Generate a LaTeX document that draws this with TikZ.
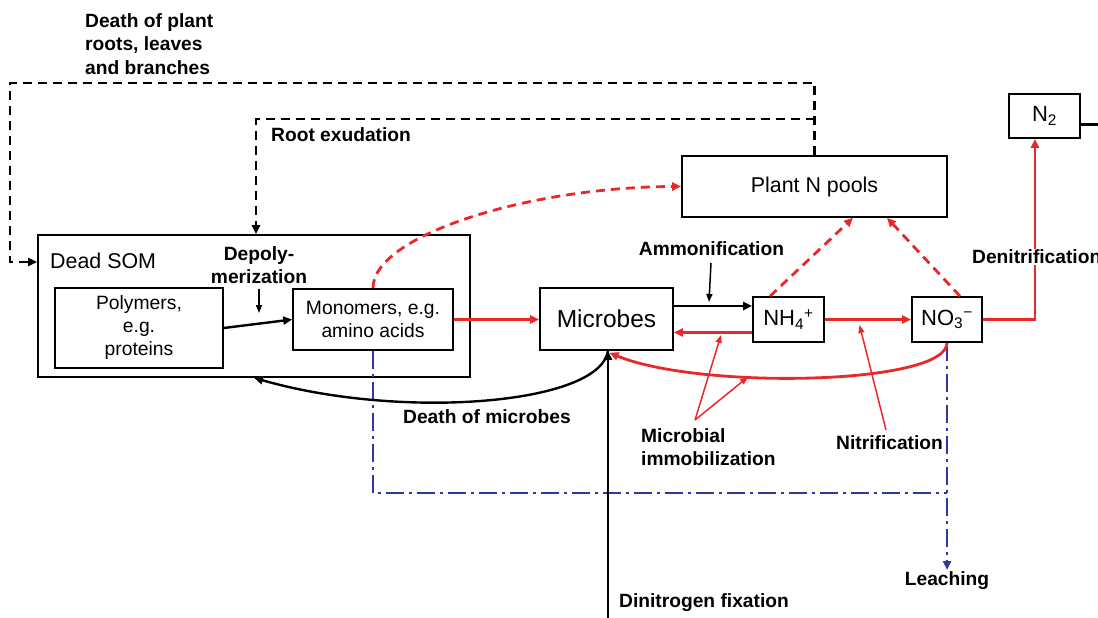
\documentclass[tikz,border=0pt]{standalone}
\usepackage{fontspec}
\setmainfont{Liberation Sans}
\usetikzlibrary{arrows.meta}
\definecolor{nred}{HTML}{E8282A}
\definecolor{nblue}{HTML}{34379A}
\begin{document}
\begin{tikzpicture}[x=1pt,y=-1pt,
 box/.style={draw,line width=1.6pt,inner sep=0pt,align=center},
 lbl/.style={font=\fontsize{19.2}{23.5}\selectfont\bfseries,inner sep=0pt,align=left},
 tip/.style={-{Triangle[length=9pt,width=8pt]}},
 stip/.style={-{Triangle[length=8pt,width=6pt]}},
 blk/.style={line width=2.4pt,black},
 thinblk/.style={line width=1.5pt,black},
 redl/.style={line width=2.8pt,nred},
 thinred/.style={line width=1.5pt,nred},
 bdash/.style={blk,dash pattern=on 9pt off 6pt},
 rdash/.style={redl,dash pattern=on 9pt off 6pt},
 bluel/.style={line width=2.4pt,nblue,dash pattern=on 18pt off 5pt on 3pt off 5pt},
]
\useasboundingbox (0,0) rectangle (1098,618);
\clip (0,0) rectangle (1098,618);

% boxes
\node[box,minimum width=432pt,minimum height=142pt] (som) at (254,306) {};
\node[anchor=west,inner sep=0pt,font=\fontsize{21.4}{25}\selectfont] (somlbl) at (50,261) {Dead SOM};
\node[box,minimum width=168pt,minimum height=80pt,font=\fontsize{19.3}{23}\selectfont] (poly) at (139,328) {Polymers,\\e.g.\\proteins};
\node[box,minimum width=160pt,minimum height=61pt,font=\fontsize{19.3}{23}\selectfont] (mono) at (373,319.5) {Monomers, e.g.\\amino acids};
\node[box,minimum width=133pt,minimum height=62pt,font=\fontsize{24.5}{28}\selectfont] (mic) at (606.5,319) {Microbes};
\node[box,minimum width=71pt,minimum height=45pt,font=\fontsize{22}{26}\selectfont] (nh4) at (788.5,319.5) {NH\textsubscript{4}\textsuperscript{+}};
\node[box,minimum width=70pt,minimum height=45pt,font=\fontsize{22}{26}\selectfont] (no3) at (947,319.5) {NO\textsubscript{3}\textsuperscript{−}};
\node[box,minimum width=71pt,minimum height=44pt,font=\fontsize{22}{26}\selectfont] (n2) at (1044.5,116) {N\textsubscript{2}};
\node[box,minimum width=265pt,minimum height=61pt,font=\fontsize{21.4}{25}\selectfont] (plant) at (814.5,186.5) {Plant N pools};

% labels
\node[lbl,anchor=west] (lplant) at (85,44) {Death of plant\\roots, leaves\\and branches};
\node[lbl,anchor=west] (lroot) at (271,135) {Root exudation};
\node[lbl,align=center] (ldepol) at (259,265) {Depoly-\\merization};
\node[lbl] (lammon) at (711.5,249) {Ammonification};
\node[lbl,anchor=west] (ldeath) at (403,417) {Death of microbes};
\node[lbl,anchor=west] (limmob) at (641,447) {Microbial\\immobilization};
\node[lbl,anchor=west] (lnitr) at (836,443) {Nitrification};
\node[lbl] (lleach) at (947,581) {Leaching};
\node[lbl,anchor=west] (ldinit) at (619,603) {Dinitrogen fixation};

% coordinates
\coordinate (ctop) at (814.5,83);
\coordinate (cleft) at (10,83);
\coordinate (cbl) at (10,262);
\coordinate (cj) at (814.5,119);
\coordinate (cr) at (256,119);
\coordinate (d1) at (259,289);
\coordinate (d2) at (259,313);
\coordinate (a1) at (711,263);
\coordinate (a2) at (709,302);
\coordinate (dn1) at (1035,319.5);
\coordinate (n2r) at (1100,124.5);
\coordinate (dnb) at (608,620);
\coordinate (bl1) at (373,493);
\coordinate (bl2) at (947,493);
\coordinate (leach) at (947,570);
\coordinate (im0) at (695,420);
\coordinate (im1) at (721,335);
\coordinate (im2) at (748,377);
\coordinate (ni0) at (886,430);
\coordinate (ni1) at (859.5,325);

% plant -> dead SOM (dashed)
\draw[bdash,tip] (plant.north) -- (ctop) -- (cleft) -- (cbl) -- (cbl -| som.west);
\draw[bdash,tip] (cj) -- (cr) -- (cr |- som.north);

% depolymerization
\draw[thinblk,stip] (d1) -- (d2);
\draw[blk,tip] (poly.east) -- (mono.west);

% monomers
\draw[redl,tip] (mono.east) -- (mono.east -| mic.west);
\draw[rdash,tip] (mono.north) .. controls (373,235) and (530,187) .. (plant.west);
\draw[bluel] (mono.south) -- (bl1) -- (bl2);

% microbes / NH4 / NO3
\draw[blk,tip] ([yshift=13pt]mic.east) -- ([yshift=13pt]mic.east -| nh4.west);
\draw[thinblk,stip] (a1) -- (a2);
\draw[redl,tip] ([yshift=-13pt]nh4.west) -- ([yshift=-13pt]nh4.west -| mic.east);
\draw[redl,tip] (nh4.east) -- (no3.west);
\draw[rdash,tip] ([xshift=-18.5pt]nh4.north) -- ([xshift=38.5pt]plant.south);
\draw[rdash,tip] ([xshift=13pt]no3.north) -- ([xshift=72.5pt]plant.south);
\draw[redl,tip] (no3.east) -- (dn1) -- (dn1 |- n2.south);
\draw[blk] ([yshift=-8.5pt]n2.east) -- (n2r);
\draw[bluel,tip] (no3.south) -- (leach);

% death of microbes, fixation, immobilization of NO3
\draw[blk,tip] ([xshift=1.5pt]mic.south) .. controls (600,405) and (400,420) .. (som.south);
\draw[blk,tip] (dnb) -- (dnb |- mic.south);
\draw[redl,tip] (no3.south) .. controls (947,385) and (700,390) .. ([xshift=3pt,yshift=-2pt]mic.south);

% thin annotation arrows
\draw[thinred,stip] (im0) -- (im1);
\draw[thinred,stip] (im0) -- (im2);
\draw[thinred,stip] (ni0) -- (ni1);

\node[lbl,anchor=west,fill=white,inner sep=1pt] (ldenit) at (971,257) {Denitrification};
\end{tikzpicture}
\end{document}
